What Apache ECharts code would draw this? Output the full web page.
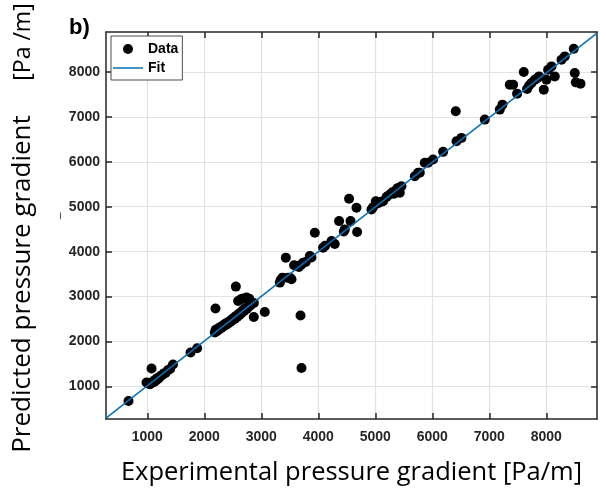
<!DOCTYPE html>
<html><head><meta charset="utf-8">
<script src="https://cdn.jsdelivr.net/npm/echarts@6/dist/echarts.min.js"></script>
<style>html,body{margin:0;padding:0;background:#fff}#c{width:600px;height:491px}</style>
</head><body><div id="c"></div>
<script>
// Experimental (x) vs predicted (y) pressure gradient, Pa/m
const expX = [
  670, 986, 1020, 1050, 1074, 1080, 1100, 1120, 1140, 1160, 1180, 1200, 1230, 1260, 1290, 1320, 1360, 1400, 1450, 1758, 1874,
  2184, 2196, 2200, 2220, 2240, 2260, 2280, 2300, 2320, 2340, 2360, 2380, 2400, 2420, 2440, 2460, 2480, 2500, 2520, 2540,
  2560, 2580, 2600, 2620, 2640, 2660, 2680, 2700, 2720, 2750, 2780, 2810, 2840, 2870,
  2553, 2593, 2640, 2690, 2740, 2790, 2868, 3061, 3688, 3705,
  3325, 3340, 3372, 3430, 3460, 3500, 3530, 3575, 3617, 3660, 3700, 3734, 3780, 3851, 3880, 3939, 4084, 4120, 4232, 4289,
  4365, 4447, 4465, 4540, 4565, 4670, 4681,
  4933, 4960, 5009, 5050, 5100, 5137, 5200, 5254, 5300, 5330, 5371, 5400, 5430, 5459, 5693, 5751, 5781, 5868, 5926, 6014,
  6190, 6412, 6425, 6512, 6921, 7184, 7231, 7360, 7418, 7488, 7605, 7663, 7700, 7740, 7798, 7840, 7874, 7956, 8004, 8032,
  8091, 8149, 8267, 8325, 8482, 8500, 8518, 8600
];
const predY = [
  675, 1089, 1060, 1050, 1400, 1090, 1110, 1100, 1150, 1140, 1190, 1180, 1230, 1250, 1290, 1300, 1360, 1390, 1490, 1756, 1851,
  2200, 2733, 2260, 2230, 2290, 2270, 2320, 2300, 2350, 2340, 2390, 2370, 2420, 2400, 2450, 2440, 2490, 2480, 2530, 2510,
  2570, 2550, 2610, 2590, 2650, 2640, 2700, 2680, 2740, 2730, 2790, 2800, 2850, 2860,
  3222, 2902, 2940, 2960, 2977, 2950, 2545, 2658, 2580, 1410,
  3311, 3370, 3422, 3867, 3420, 3422, 3384, 3696, 3680, 3660, 3710, 3756, 3770, 3902, 3870, 4422, 4089, 4130, 4236, 4170,
  4680, 4450, 4496, 5178, 4680, 4978, 4436,
  4940, 4990, 5124, 5080, 5110, 5124, 5220, 5273, 5320, 5290, 5384, 5420, 5311, 5458, 5680, 5756, 5756, 5978, 5978, 6051,
  6222, 7124, 6458, 6533, 6940, 7162, 7273, 7718, 7718, 7518, 8000, 7622, 7700, 7756, 7829, 7860, 7902, 7607, 7829, 8051,
  8124, 7902, 8273, 8347, 8518, 7978, 7769, 7740
];
// Fit line endpoints
const fitX = [275, 8890];
const fitY = [294, 8866];
// Axis ticks
const tickValues = [1000, 2000, 3000, 4000, 5000, 6000, 7000, 8000];
const axisMin = 275;
const axisMax = 8890;

const scatterData = expX.map((x, i) => [x, predY[i]]);
const fitData = fitX.map((x, i) => [x, fitY[i]]);

const axisColor = '#262626';
const labelStyle = { fontFamily: 'Liberation Sans', fontWeight: 'bold', fontSize: 14, color: axisColor, formatter: v => String(v) };
const lineStyle = { color: axisColor, width: 1.5 };
const gridLine = { show: true, lineStyle: { color: '#e2e2e2', width: 1.2 } };

function mainAxis(pos, extra) {
  return Object.assign({
    type: 'value', position: pos, min: axisMin, max: axisMax,
    axisLine: { show: true, onZero: false, lineStyle: lineStyle },
    axisTick: { show: true, inside: true, length: 6, customValues: tickValues, lineStyle: lineStyle },
    axisLabel: Object.assign({ customValues: tickValues }, labelStyle),
    splitLine: gridLine
  }, extra || {});
}
function mirrorAxis(pos) {
  return {
    type: 'value', position: pos, min: axisMin, max: axisMax,
    axisLine: { show: true, onZero: false, lineStyle: lineStyle },
    axisTick: { show: true, inside: true, length: 6, customValues: tickValues, lineStyle: lineStyle },
    axisLabel: { show: false },
    splitLine: { show: false }
  };
}

const chart = echarts.init(document.getElementById('c'), null, { renderer: 'canvas' });
chart.setOption({
  animation: false,
  backgroundColor: '#fff',
  title: {
    text: 'b)', left: 64, top: 12,
    textStyle: { fontFamily: 'Liberation Sans', fontWeight: 'bold', fontSize: 22, color: '#000' }
  },
  grid: { left: 106, right: 3, top: 32, bottom: 71, containLabel: false },
  xAxis: [
    mainAxis('bottom', {
      name: 'Experimental pressure gradient [Pa/m]', nameLocation: 'middle', nameGap: 41,
      nameTextStyle: { fontFamily: 'Open Sans', fontSize: 25.5, color: '#000' },
      axisLabel: Object.assign({ customValues: tickValues, margin: 11 }, labelStyle)
    }),
    mirrorAxis('top')
  ],
  yAxis: [
    mainAxis('left', { axisLabel: Object.assign({ customValues: tickValues, margin: 6 }, labelStyle) }),
    mirrorAxis('right')
  ],
  legend: {
    orient: 'vertical', left: 111, top: 36,
    backgroundColor: '#fff', borderColor: '#4d4d4d', borderWidth: 1,
    padding: [6, 4, 5, 2], itemGap: 5, itemWidth: 30, itemHeight: 10,
    textStyle: { fontFamily: 'Liberation Sans', fontWeight: 'bold', fontSize: 14, color: '#000' },
    data: [{ name: 'Data' }, { name: 'Fit', icon: 'path://M0,0L30,0L30,1.5L0,1.5Z' }]
  },
  graphic: [
    { type: 'text', x: 23, y: 284, rotation: Math.PI / 2,
      style: { text: 'Predicted pressure gradient', fontFamily: 'Open Sans', fontSize: 26, fill: '#000', align: 'center', verticalAlign: 'middle' } },
    { type: 'text', x: 23, y: 42, rotation: Math.PI / 2,
      style: { text: '[Pa /m]', fontFamily: 'Open Sans', fontSize: 23, fill: '#000', align: 'center', verticalAlign: 'middle' } },
    { type: 'text', x: 61, y: 216, rotation: Math.PI / 2,
      style: { text: '–', fontFamily: 'Liberation Sans', fontSize: 12, fill: '#444', align: 'center', verticalAlign: 'middle' } }
  ],
  series: [
    { name: 'Data', type: 'scatter', xAxisIndex: 0, yAxisIndex: 0, data: scatterData,
      symbol: 'circle', symbolSize: 10, itemStyle: { color: '#000', opacity: 1 }, z: 3 },
    { name: 'Fit', type: 'line', xAxisIndex: 0, yAxisIndex: 0, data: fitData,
      symbol: 'none', showSymbol: false, lineStyle: { color: '#0072BD', width: 1.5 }, itemStyle: { color: '#0072BD' }, z: 4 }
  ]
});
</script>
</body></html>
